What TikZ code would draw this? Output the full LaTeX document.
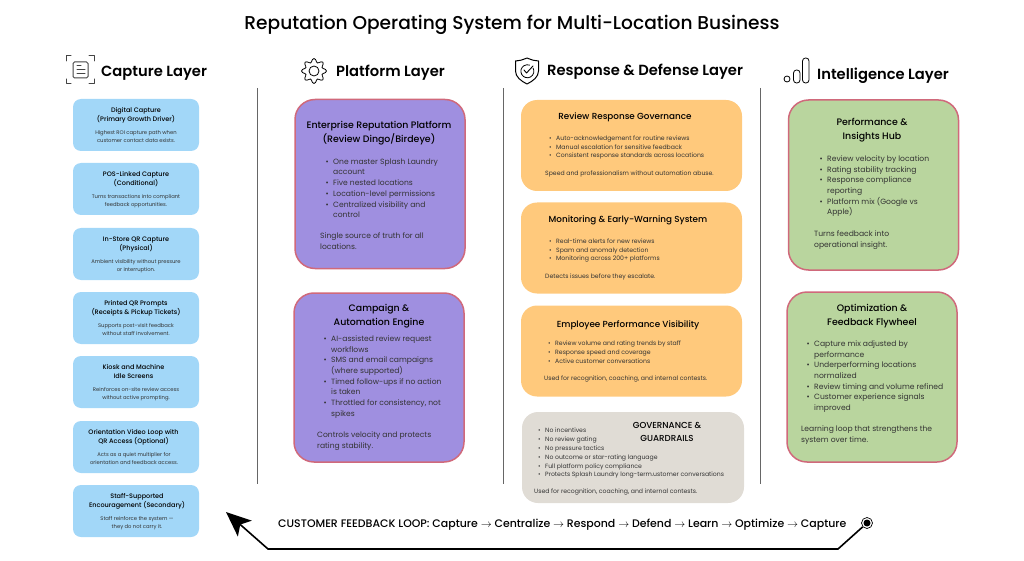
\documentclass[tikz,border=0pt]{standalone}
\usepackage{fontspec}
\usepackage{xcolor}
\usepackage{tikz}
\usetikzlibrary{arrows.meta,positioning}
\setmainfont{Poppins}
\newfontfamily\medfont{Poppins Medium}
\newfontfamily\semifont{Poppins SemiBold}
\definecolor{capblue}{HTML}{A2D7F8}
\definecolor{platpurple}{HTML}{9F8FE0}
\definecolor{rosepink}{HTML}{D0697B}
\definecolor{resporange}{HTML}{FFC97C}
\definecolor{guardgray}{HTML}{E0DCD5}
\definecolor{intelgreen}{HTML}{B9D59E}
\definecolor{inkgray}{HTML}{444444}
\newcommand{\bul}{\llap{\textbullet\hspace{4.5pt}}}

\begin{document}
\begin{tikzpicture}[
  x=1pt, y=-1pt,
  capbox/.style={rectangle, fill=capblue, rounded corners=8pt, minimum width=126pt, minimum height=52pt, inner sep=0pt},
  platbox/.style={rectangle, draw=rosepink, line width=1.5pt, fill=platpurple, rounded corners=20pt, minimum width=170pt, minimum height=169pt, inner sep=0pt},
  respbox/.style={rectangle, fill=resporange, rounded corners=16pt, minimum width=221pt, minimum height=91pt, inner sep=0pt},
  intelbox/.style={rectangle, draw=rosepink, line width=1.5pt, fill=intelgreen, rounded corners=20pt, minimum width=170pt, minimum height=170pt, inner sep=0pt},
  heading/.style={anchor=base west, inner sep=0pt, font=\fontsize{14.7}{18}\selectfont\semifont},
  captitle/.style={anchor=north, inner sep=0pt, yshift=-1pt, align=center, execute at begin node=\strut, font=\fontsize{6.5}{9}\selectfont\medfont},
  capbody/.style={anchor=north, inner sep=0pt, yshift=-0.5pt, align=center, text=black!80, execute at begin node=\strut, font=\fontsize{5.25}{7.4}\selectfont},
  bigtitle/.style={anchor=north, inner sep=0pt, yshift=-2pt, align=center, execute at begin node=\strut, font=\fontsize{9.4}{13.5}\selectfont\medfont},
  bigtext/.style={anchor=north west, inner sep=0pt, yshift=-2pt, align=left, text=black!80, execute at begin node=\strut, font=\fontsize{7.6}{10.67}\selectfont},
  smalltitle/.style={anchor=base, inner sep=0pt, font=\fontsize{8.8}{11}\selectfont\medfont},
  smalltext/.style={anchor=north west, inner sep=0pt, yshift=-1.5pt, align=left, text=black!80, execute at begin node=\strut, font=\fontsize{6.15}{8.8}\selectfont},
  divider/.style={draw=black!60, line width=0.8pt},
  icon/.style={draw=inkgray, line width=1pt, line cap=round, line join=round},
  arr/.style={-{Stealth[length=25pt, width=21pt, inset=6pt]}, line width=1.6pt},
]
  \useasboundingbox (0,0) rectangle (1024,561);

  % Title
  \node[anchor=base, inner sep=0pt, font=\fontsize{18.6}{22}\selectfont\medfont] (maintitle) at (512,30) {Reputation Operating System for Multi-Location Business};

  % Layer headings
  \node[heading] (capturehead) at (101,77) {Capture Layer};
  \node[heading] (platformhead) at (336,77) {Platform Layer};
  \node[heading] (responsehead) at (547,76) {Response \& Defense Layer};
  \node[heading] (intelhead) at (817,80) {Intelligence Layer};

  % Heading icons
  \draw[icon] (66,61) -- (66,56) -- (71,56) (89,56) -- (94,56) -- (94,61) (66,79) -- (66,84) -- (71,84) (89,84) -- (94,84) -- (94,79);
  \draw[icon, rounded corners=1.5pt] (73,62) rectangle (88,78);
  \draw[icon] (77,66) -- (81,66) (77,70) -- (85,70) (77,74) -- (85,74);
  \draw[icon, black, line width=0.8pt] plot[smooth cycle, samples=48, domain=0:352.5] ([shift={(314,71)}]\x:{10.6+1.9*cos(8*\x)});
  \draw[icon, black, line width=0.8pt] (314,71) circle (5);
  \draw[icon, black] (527,58) .. controls (522,60) and (519,61) .. (515.5,61) -- (515.5,71) .. controls (515.5,77) and (521,81) .. (527,84) .. controls (533,81) and (538.5,77) .. (538.5,71) -- (538.5,61) .. controls (535,61) and (532,60) .. (527,58) -- cycle;
  \draw[icon, black, line width=0.8pt] (533,68) arc (-30:290:6.5);
  \draw[icon, black, line width=0.9pt] (524,70) -- (526.5,73) -- (533,66);
  \draw[icon, black, line width=0.8pt] (787,79) circle (3);
  \draw[icon, black, line width=0.8pt, rounded corners=3pt] (793.5,70) rectangle (800,83);
  \draw[icon, black, line width=0.8pt, rounded corners=3pt] (802.5,58) rectangle (809,83);

  % Column dividers
  \draw[divider] (257.5,88) -- (257.5,484);
  \draw[divider] (503.5,88) -- (503.5,484);
  \draw[divider] (760.5,88) -- (760.5,484);

  % Capture layer
  \node[capbox] (digital) at (136,125) {};
  \node[captitle] (digitaltitle) at (136,106.5) {Digital Capture\\(Primary Growth Driver)};
  \node[capbody] (digitalbody) at (136,130) {Highest ROI capture path when\\customer contact data exists.};

  \node[capbox] (pos) at (136,189) {};
  \node[captitle] (postitle) at (136,170.5) {POS-Linked Capture\\(Conditional)};
  \node[capbody] (posbody) at (136,194) {Turns transactions into compliant\\feedback opportunities.};

  \node[capbox] (instore) at (136,254) {};
  \node[captitle] (instoretitle) at (136,235.5) {In-Store QR Capture\\(Physical)};
  \node[capbody] (instorebody) at (136,259) {Ambient visibility without pressure\\or interruption.};

  \node[capbox] (printed) at (136,318) {};
  \node[captitle] (printedtitle) at (136,299.5) {Printed QR Prompts\\(Receipts \& Pickup Tickets)};
  \node[capbody] (printedbody) at (136,323) {Supports post-visit feedback\\without staff involvement.};

  \node[capbox] (kiosk) at (136,382) {};
  \node[captitle] (kiosktitle) at (133.5,363.5) {Kiosk and Machine\\Idle Screens};
  \node[capbody] (kioskbody) at (136,387) {Reinforces on-site review access\\without active prompting.};

  \node[capbox] (video) at (136,447) {};
  \node[captitle] (videotitle) at (133.5,428.5) {Orientation Video Loop with\\QR Access (Optional)};
  \node[capbody] (videobody) at (134,452) {Acts as a quiet multiplier for\\orientation and feedback access.};

  \node[capbox] (staff) at (136,511) {};
  \node[captitle] (stafftitle) at (137,492.5) {Staff-Supported\\Encouragement (Secondary)};
  \node[capbody] (staffbody) at (137,516) {Staff reinforce the system —\\they do not carry it.};

  % Platform layer
  \node[platbox] (enterprise) at (380,184) {};
  \node[bigtitle] (enterprisetitle) at (379,119.5) {Enterprise Reputation Platform\\(Review Dingo/Birdeye)};
  \node[bigtext] (enterpriselist) at (333,156.5) {\bul One master Splash Laundry\\account\\\bul Five nested locations\\\bul Location-level permissions\\\bul Centralized visibility and\\control};
  \node[bigtext] (enterprisenote) at (320,230.5) {Single source of truth for all\\locations.};

  \node[platbox] (campaign) at (379,377.5) {};
  \node[bigtitle] (campaigntitle) at (379,302.5) {Campaign \&\\Automation Engine};
  \node[bigtext] (campaignlist) at (331,333.5) {\bul AI-assisted review request\\workflows\\\bul SMS and email campaigns\\(where supported)\\\bul Timed follow-ups if no action\\is taken\\\bul Throttled for consistency, not\\spikes};
  \node[bigtext] (campaignnote) at (317,429.5) {Controls velocity and protects\\rating stability.};

  % Response and defense layer
  \node[respbox] (governance) at (631.5,145.5) {};
  \node[smalltitle] (governancetitle) at (625,119.5) {Review Response Governance};
  \node[smalltext] (governancelist) at (556,134) {\bul Auto-acknowledgement for routine reviews\\\bul Manual escalation for sensitive feedback\\\bul Consistent response standards across locations};
  \node[smalltext] (governancenote) at (545,168) {Speed and professionalism without automation abuse.};

  \node[respbox] (monitoring) at (631.5,248) {};
  \node[smalltitle] (monitoringtitle) at (628,222.5) {Monitoring \& Early-Warning System};
  \node[smalltext] (monitoringlist) at (556,237) {\bul Real-time alerts for new reviews\\\bul Spam and anomaly detection\\\bul Monitoring across 200+ platforms};
  \node[smalltext] (monitoringnote) at (545,270.5) {Detects issues before they escalate.};

  \node[respbox] (employee) at (631.5,351) {};
  \node[smalltitle] (employeetitle) at (628,327.5) {Employee Performance Visibility};
  \node[smalltext] (employeelist) at (555,339) {\bul Review volume and rating trends by staff\\\bul Response speed and coverage\\\bul Active customer conversations};
  \node[smalltext] (employeenote) at (544,373) {Used for recognition, coaching, and internal contests.};

  \node[respbox, fill=guardgray, minimum width=222pt] (guardrails) at (633,457.5) {};
  \node[bigtitle, font=\fontsize{8.7}{12.5}\selectfont\medfont] (guardrailstitle) at (667,420.5) {GOVERNANCE \&\\GUARDRAILS};
  \node[smalltext] (guardrailslist) at (545,426.5) {\bul No incentives\\\bul No review gating\\\bul No pressure tactics\\\bul No outcome or star-rating language\\\bul Full platform policy compliance\\\bul Protects Splash Laundry long-term.ustomer conversations};
  \node[smalltext] (guardrailsnote) at (534,486) {Used for recognition, coaching, and internal contests.};

  % Intelligence layer
  \node[intelbox] (insights) at (873.5,185) {};
  \node[bigtitle] (insightstitle) at (872,116.5) {Performance \&\\Insights Hub};
  \node[bigtext] (insightslist) at (827,153.5) {\bul Review velocity by location\\\bul Rating stability tracking\\\bul Response compliance\\reporting\\\bul Platform mix (Google vs\\Apple)};
  \node[bigtext] (insightsnote) at (814,228.5) {Turns feedback into\\operational insight.};

  \node[intelbox] (flywheel) at (872,377) {};
  \node[bigtitle] (flywheeltitle) at (872,302.5) {Optimization \&\\Feedback Flywheel};
  \node[bigtext] (flywheellist) at (814,338.5) {\bul Capture mix adjusted by\\performance\\\bul Underperforming locations\\normalized\\\bul Review timing and volume refined\\\bul Customer experience signals\\improved};
  \node[bigtext] (flywheelnote) at (801,423.5) {Learning loop that strengthens the\\system over time.};

  % Feedback loop
  \node[anchor=base west, inner sep=0pt, font=\fontsize{10.95}{13}\selectfont\medfont] (looplabel) at (278,527) {CUSTOMER FEEDBACK LOOP: Capture $\rightarrow$ Centralize $\rightarrow$ Respond $\rightarrow$ Defend $\rightarrow$ Learn $\rightarrow$ Optimize $\rightarrow$ Capture};
  \node[circle, draw, line width=0.7pt, minimum size=11pt, inner sep=0pt] (loopstart) at (867,523) {};
  \node[circle, fill=black, minimum size=7pt, inner sep=0pt] (loopdot) at (867,523) {};
  \coordinate (loopright) at (838,549);
  \coordinate (loopleft) at (268,549);
  \coordinate (looptip) at (226,512);
  \draw[arr] (loopstart) -- (loopright) -- (loopleft) -- (looptip);
\end{tikzpicture}
\end{document}
